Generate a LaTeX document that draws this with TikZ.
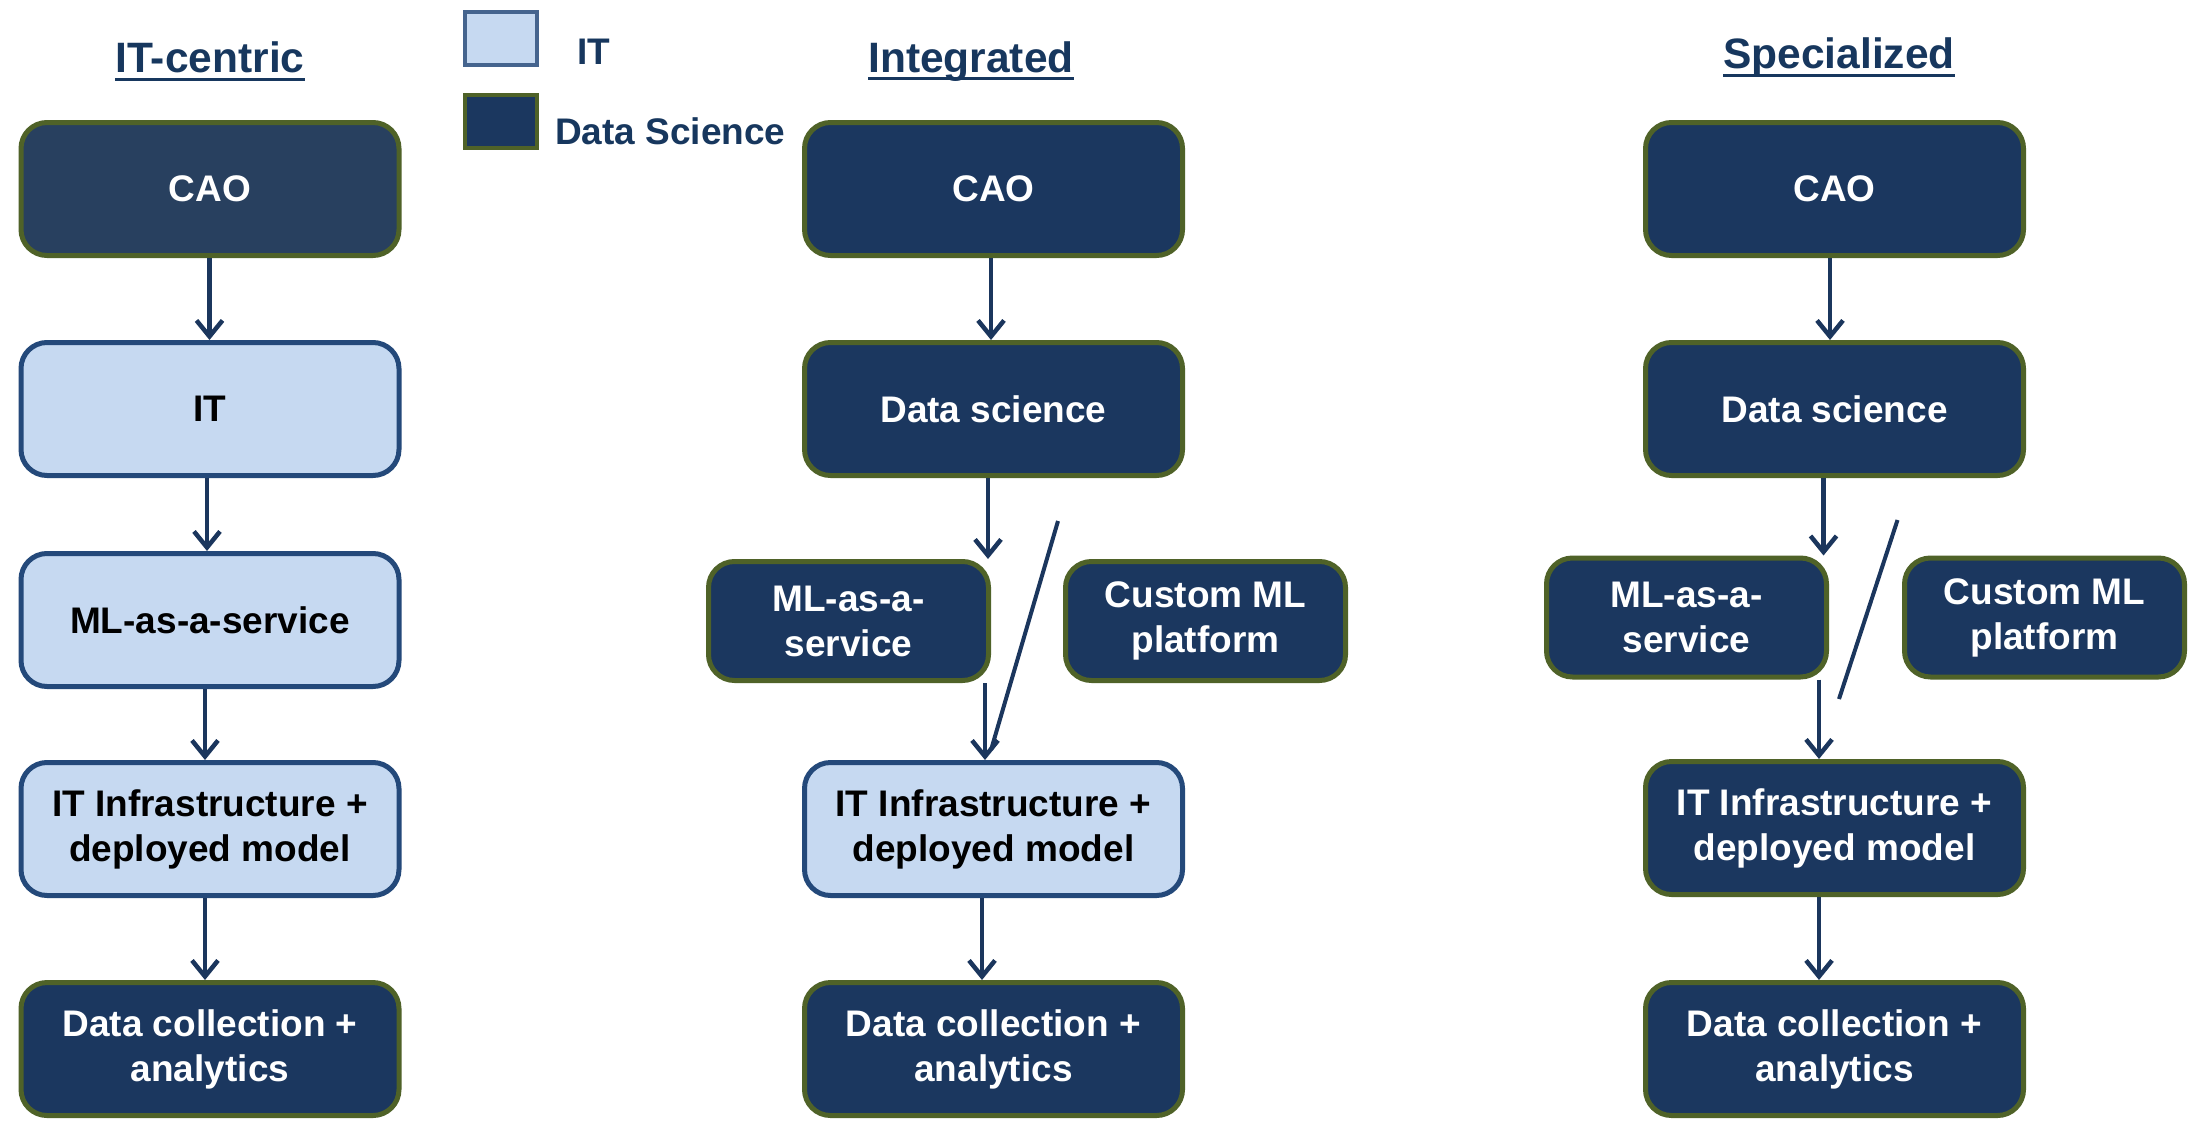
\documentclass[tikz,border=0pt]{standalone}
\usepackage{fontspec}
\setmainfont{Liberation Sans}
\usetikzlibrary{arrows.meta}
\definecolor{dsfill}{HTML}{1B375F}
\definecolor{dsfillB}{HTML}{28405F}
\definecolor{olive}{HTML}{4F6228}
\definecolor{itfill}{HTML}{C6D9F1}
\definecolor{itline}{HTML}{24497A}
\definecolor{navy}{HTML}{1B365D}
\definecolor{ttl}{HTML}{17375E}
\tikzset{
  box/.style={rounded corners=26pt, line width=5pt, inner sep=0pt, align=center,
    minimum width=378pt, minimum height=133pt,
    font=\bfseries\fontsize{37}{45}\selectfont},
  small/.style={minimum width=280pt, minimum height=119pt},
  dsbox/.style={box, draw=olive, fill=dsfill, text=white},
  itbox/.style={box, draw=itline, fill=itfill, text=black},
  arr/.style={draw=navy, line width=4.5pt, -{Straight Barb[length=16pt,width=26pt]}},
  slashline/.style={draw=navy, line width=4pt},
  title/.style={inner sep=0pt, anchor=base, text=ttl, font=\bfseries\fontsize{42.5}{48}\selectfont},
  uline/.style={draw=ttl, line width=3pt},
  legtext/.style={inner sep=0pt, text=ttl, font=\bfseries\fontsize{37}{44}\selectfont},
  legsq/.style={line width=4pt, inner sep=0pt, minimum width=72pt, minimum height=53pt}
}
\begin{document}
\begin{tikzpicture}[x=1pt,y=1pt]
\useasboundingbox[fill=white] (0,0) rectangle (2191,-1124);

% titles
\node[title] (t1) at (210,-73) {IT-centric};
\node[title] (t2) at (971,-72) {Integrated};
\node[title] (t3) at (1839,-69) {Specialized};
\foreach \t in {t1,t2,t3}
  \draw[uline] ([yshift=-6pt]\t.base west) -- ([yshift=-6pt]\t.base east);

% legend
\node[legsq, draw=itline!85!white, fill=itfill] (lit) at (501,-38.5) {};
\node[legsq, draw=olive, fill=dsfill] (lds) at (501,-121) {};
\node[legtext] (litt) at (594,-52) {IT};
\node[legtext, anchor=west] (ldst) at (555,-131) {Data Science};

% column 1
\node[dsbox, fill=dsfillB] (cao1) at (210,-189) {CAO};
\node[itbox] (it1) at (210,-409) {IT};
\node[itbox] (ml1) at (210,-620) {ML-as-a-service};
\node[itbox] (inf1) at (210,-829) {IT Infrastructure +\\deployed model};
\node[dsbox] (dc1) at (210,-1049) {Data collection +\\analytics};
\coordinate (c1a) at (209.5,0);
\coordinate (c1b) at (207,0);
\coordinate (c1c) at (205,0);
\draw[arr] (cao1.south -| c1a) -- (it1.north -| c1a);
\draw[arr] (it1.south -| c1b) -- (ml1.north -| c1b);
\draw[arr] (ml1.south -| c1c) -- (inf1.north -| c1c);
\draw[arr] (inf1.south -| c1c) -- (dc1.north -| c1c);

% column 2
\node[dsbox] (cao2) at (993.5,-189) {CAO};
\node[dsbox] (ds2) at (993.5,-409) {Data science};
\node[dsbox, small] (ml2) at (848.5,-621) {ML-as-a-\\service};
\node[dsbox, small] (cu2) at (1205.5,-621) {Custom ML\\platform};
\node[itbox] (inf2) at (993.5,-829) {IT Infrastructure +\\deployed model};
\node[dsbox] (dc2) at (993.5,-1049) {Data collection +\\analytics};
\coordinate (c2a) at (991,0);
\coordinate (c2b) at (988,0);
\coordinate (c2c) at (985,0);
\coordinate (c2d) at (982,0);
\draw[arr] (cao2.south -| c2a) -- (ds2.north -| c2a);
\draw[arr] (ds2.south -| c2b) -- (ml2.north -| c2b);
\draw[arr] (ml2.south -| c2c) -- (inf2.north -| c2c);
\draw[arr] (inf2.south -| c2d) -- (dc2.north -| c2d);
\coordinate (s2a) at (1058,-521);
\coordinate (s2b) at (991,-750);
\draw[slashline] (s2a) -- (s2b);

% column 3
\node[dsbox] (cao3) at (1834.5,-189) {CAO};
\node[dsbox] (ds3) at (1834.5,-409) {Data science};
\node[dsbox, small] (ml3) at (1686.5,-617.5) {ML-as-a-\\service};
\node[dsbox, small] (cu3) at (2044.5,-617.5) {Custom ML\\platform};
\node[dsbox] (inf3) at (1834.5,-828) {IT Infrastructure +\\deployed model};
\node[dsbox] (dc3) at (1834.5,-1049) {Data collection +\\analytics};
\coordinate (c3a) at (1830,0);
\coordinate (c3b) at (1823.5,0);
\coordinate (c3c) at (1819,0);
\draw[arr] (cao3.south -| c3a) -- (ds3.north -| c3a);
\draw[arr] (ds3.south -| c3b) -- (ml3.north -| c3b);
\draw[arr] (ml3.south -| c3c) -- (inf3.north -| c3c);
\draw[arr] (inf3.south -| c3c) -- (dc3.north -| c3c);
\coordinate (s3a) at (1897.5,-520);
\coordinate (s3b) at (1839,-699);
\draw[slashline] (s3a) -- (s3b);
\end{tikzpicture}
\end{document}
